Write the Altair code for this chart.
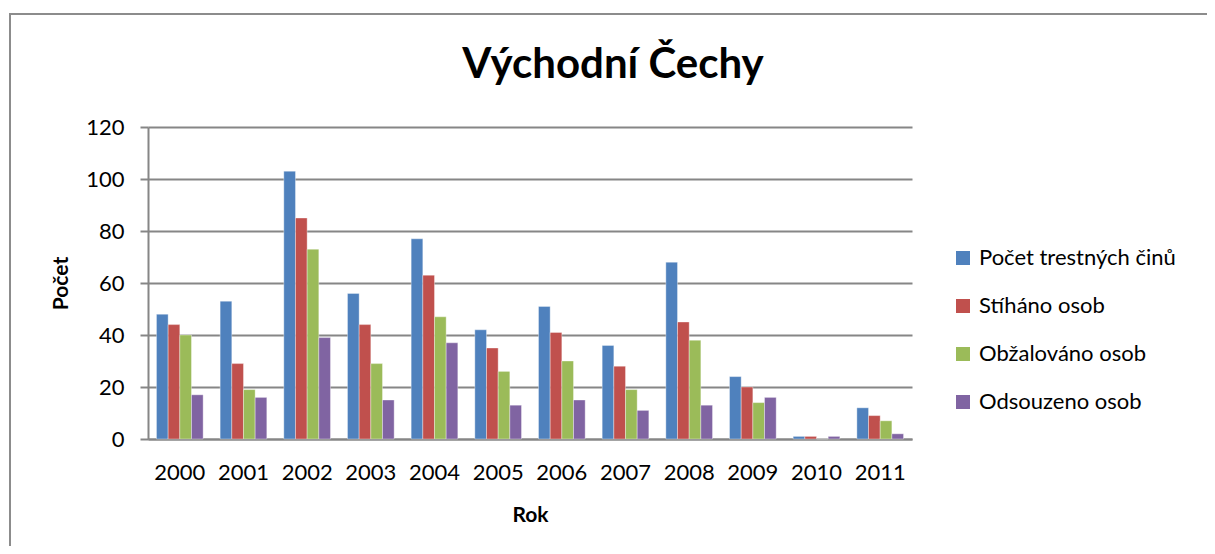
import altair as alt
import pandas as pd

years = ["2000", "2001", "2002", "2003", "2004", "2005", "2006", "2007", "2008", "2009", "2010", "2011"]
series = ["Počet trestných činů", "Stíháno osob", "Obžalováno osob", "Odsouzeno osob"]
pocet_tc = [48, 53, 103, 56, 77, 42, 51, 36, 68, 24, 1, 12]
stihano = [44, 29, 85, 44, 63, 35, 41, 28, 45, 20, 1, 9]
obzalovano = [40, 19, 73, 29, 47, 26, 30, 19, 38, 14, 0, 7]
odsouzeno = [17, 16, 39, 15, 37, 13, 15, 11, 13, 16, 1, 2]
colors = ["#4F81BD", "#C0504D", "#9BBB59", "#8064A2"]

rows = []
for s, vals in zip(series, [pocet_tc, stihano, obzalovano, odsouzeno]):
    for y, v in zip(years, vals):
        rows.append({"rok": y, "serie": s, "pocet": v})
df = pd.DataFrame(rows)

FONT = "Lato"
GRID = "#868686"

bars = alt.Chart(df).mark_bar(stroke="white", strokeWidth=0.6, strokeOpacity=0.6).encode(
    x=alt.X("rok:N", sort=years, title="Rok",
            scale=alt.Scale(paddingInner=0.267, paddingOuter=0.133),
            axis=alt.Axis(labelAngle=0, ticks=False, labelPadding=23, titlePadding=21,
                          domainColor=GRID, domainWidth=2, grid=False)),
    xOffset=alt.XOffset("serie:N", sort=series, scale=alt.Scale(paddingInner=0, paddingOuter=0)),
    y=alt.Y("pocet:Q", title="Počet",
            scale=alt.Scale(domain=[0, 120], nice=False),
            axis=alt.Axis(values=[0, 20, 40, 60, 80, 100, 120], grid=True, gridColor=GRID,
                          gridWidth=2, domainColor=GRID, domainWidth=2, tickColor=GRID,
                          tickWidth=2, tickSize=8, labelPadding=16, titlePadding=14)),
    color=alt.Color("serie:N", sort=series,
                    scale=alt.Scale(domain=series, range=colors),
                    legend=alt.Legend(title=None, orient="none", legendX=804, legendY=120,
                                      symbolType="square", symbolSize=196, symbolStrokeWidth=0,
                                      labelFontSize=22, labelFont=FONT, labelColor="black",
                                      rowPadding=26, labelOffset=5, labelLimit=400)),
)

frame = alt.Data(values=[{}])
left_line = alt.Chart(frame).mark_rule(color="#8c8c8c", strokeWidth=2).encode(
    x=alt.value(-138), y=alt.value(-113), y2=alt.value(420))
top_line = alt.Chart(frame).mark_rule(color="#8c8c8c", strokeWidth=2).encode(
    x=alt.value(-139), x2=alt.value(1060), y=alt.value(-113))

chart = alt.layer(bars, left_line, top_line).properties(
    width=764, height=312,
    background="white",
    title=alt.TitleParams("Východní Čechy", font=FONT, fontSize=42, fontWeight="bold",
                          color="black", anchor="middle", frame="group", dx=83,
                          offset=-107, baseline="alphabetic"),
    autosize=alt.AutoSizeParams(type="none"),
    padding={"left": 140, "top": 119, "right": 295, "bottom": 107},
).configure_view(stroke=None).configure_axis(
    labelFont=FONT, labelFontSize=22, labelColor="black",
    titleFont=FONT, titleFontSize=21, titleFontWeight="bold", titleColor="black",
)

chart.save("out.html", embed_options={"renderer": "svg", "actions": False})
